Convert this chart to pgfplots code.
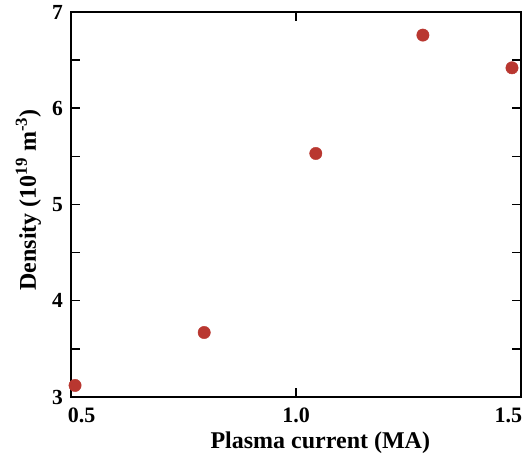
\documentclass[border=0pt]{standalone}
\usepackage{pgfplots}
\pgfplotsset{compat=1.18}
\usepackage{fontspec}
\setmainfont{Liberation Serif}
\definecolor{dotred}{RGB}{185,55,48}
\begin{document}
\begin{tikzpicture}
\begin{axis}[
  scale only axis,
  width=450pt, height=385pt,
  xmin=0.5, xmax=1.5, ymin=3, ymax=7,
  xtick={0.5,1,1.5},
  xticklabels={\makebox[0pt][l]{\hspace{-3pt}0.5},1.0,\makebox[0pt][r]{1.5\hspace{-1pt}}},
  ytick={3,4,5,6,7},
  minor ytick={3.5,4.5,5.5,6.5},
  tick align=inside,
  major tick length=9pt,
  minor tick length=9pt,
  every tick/.style={black, line width=1.5pt},
  axis line style={line width=1.5pt},
  /pgf/number format/assume math mode=true,
  yticklabel style={font=\fontsize{21.5}{23}\selectfont\bfseries, anchor=east, inner sep=0pt, xshift=-8pt},
  xticklabel style={font=\fontsize{22}{24}\selectfont\bfseries, anchor=north, inner sep=0pt, yshift=-11pt},
  xlabel={Plasma current (MA)},
  ylabel={Density (10\textsuperscript{19} m\textsuperscript{-3})},
  label style={font=\fontsize{24}{26}\selectfont\bfseries, inner sep=0pt},
  xlabel style={at={(axis description cs:0.554,0)}, anchor=base, yshift=-51.5pt},
  ylabel style={at={(axis description cs:-0.078,0.512)}, anchor=base, rotate=0},
]
\addplot[only marks, mark=*, mark size=6.2pt, color=dotred] coordinates {
  (0.509,3.12) (0.796,3.67) (1.044,5.53) (1.282,6.76) (1.48,6.42)
};
\end{axis}
\pgfresetboundingbox
\path (current axis.south west) ++(-71pt,-57pt) rectangle ++(528pt,454pt);
\end{tikzpicture}
\end{document}
